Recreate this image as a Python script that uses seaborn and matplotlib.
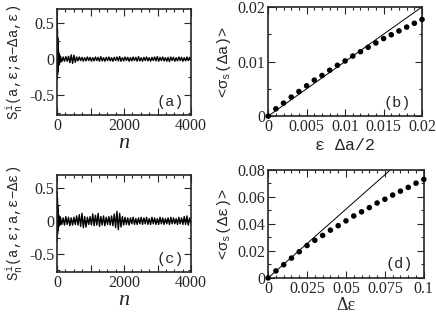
import numpy as np
import pandas as pd
import matplotlib.pyplot as plt
import seaborn as sns
from matplotlib.ticker import MultipleLocator, FuncFormatter

sns.set_style("ticks")
plt.rcParams['font.family'] = ['Liberation Serif', 'DejaVu Serif']
plt.rcParams['mathtext.fontset'] = 'custom'
plt.rcParams['mathtext.tt'] = 'Liberation Mono'
plt.rcParams['mathtext.rm'] = 'Liberation Mono'
plt.rcParams['mathtext.it'] = 'Liberation Mono'

early_n_a = [0, 3, 6, 9, 12, 15, 18, 22, 26, 30, 35, 40, 46, 52, 60, 68, 76, 85, 95]
early_a = [0.0, 0.58, -0.27, 0.42, -0.22, 0.30, -0.18, 0.22, -0.14, 0.16, -0.11,
           0.12, -0.09, 0.08, -0.07, 0.06, -0.05, 0.04, -0.04]
late_a = [
    0.04, -0.035, 0.03, -0.03, 0.035, -0.03, 0.04, -0.05, 0.06, -0.06, 0.055, -0.045,
    0.03, -0.025, 0.03, -0.02, 0.025, -0.03, 0.02, -0.025, 0.03, -0.02, 0.025, -0.03,
    0.02, -0.025, 0.03, -0.02, 0.025, -0.03, 0.035, -0.025, 0.02, -0.03, 0.025, -0.02,
    0.03, -0.025, 0.02, -0.03, 0.025, -0.02, 0.03, -0.025, 0.035, -0.03, 0.02, -0.025,
    0.03, -0.02, 0.025, -0.03, 0.02, -0.025, 0.03, -0.02, 0.025, -0.03, 0.035, -0.025,
    0.02, -0.03, 0.025, -0.02, 0.03, -0.025, 0.02, -0.03, 0.025, -0.02, 0.03, -0.025,
    0.035, -0.03, 0.025, -0.02, 0.03, -0.025, 0.02, -0.03, 0.025, -0.035, 0.03, -0.02,
    0.025, -0.03, 0.02, -0.025, 0.03, -0.02, 0.025, -0.03, 0.02, -0.025, 0.03, -0.02,
    0.025, -0.02]

# ---- panel (c): S_n^i(a,eps;a,eps-deps)
early_n_c = early_n_a
early_c = [0.0, 0.45, -0.30, 0.35, -0.20, 0.25, -0.15, 0.18, -0.12, 0.14, -0.10,
           0.10, -0.08, 0.08, -0.07, 0.07, -0.06, 0.06, -0.05]
late_c = [
    0.06, -0.05, 0.05, -0.06, 0.07, -0.05, 0.06, -0.07, 0.05, -0.06, 0.06, -0.05,
    0.08, -0.06, 0.10, -0.08, 0.12, -0.10, 0.07, -0.09, 0.06, -0.05, 0.07, -0.06,
    0.11, -0.07, 0.09, -0.06, 0.12, -0.08, 0.07, -0.06, 0.08, -0.07, 0.06, -0.05,
    0.07, -0.06, 0.08, -0.07, 0.11, -0.10, 0.15, -0.13, 0.12, -0.09, 0.07, -0.06,
    0.06, -0.05, 0.05, -0.06, 0.05, -0.04, 0.06, -0.05, 0.04, -0.05, 0.05, -0.04,
    0.06, -0.05, 0.05, -0.04, 0.06, -0.05, 0.04, -0.05, 0.06, -0.04, 0.05, -0.05,
    0.04, -0.05, 0.06, -0.04, 0.05, -0.05, 0.04, -0.04, 0.05, -0.05, 0.06, -0.04,
    0.05, -0.04, 0.04, -0.05, 0.06, -0.04, 0.05, -0.05, 0.07, -0.05, 0.08, -0.06,
    0.05, -0.04]

# ---- panel (b): <sigma_s(da)> vs eps*da/2
b_x = [0.0, 0.001, 0.002, 0.003, 0.004, 0.005, 0.006, 0.007, 0.008, 0.009, 0.010,
       0.011, 0.012, 0.013, 0.014, 0.015, 0.016, 0.017, 0.018, 0.019, 0.020]
b_y = [0.0, 0.00134, 0.00238, 0.00348, 0.0045, 0.00555, 0.00659, 0.00744, 0.0084,
       0.0093, 0.0101, 0.0110, 0.0118, 0.0126, 0.0134, 0.0142, 0.0149, 0.0156,
       0.0163, 0.0170, 0.0177]
b_line_x = [0.0, 0.02]
b_line_y = [0.0, 0.02]

# ---- panel (d): <sigma_s(deps)> vs deps
d_x = [0.0, 0.005, 0.010, 0.015, 0.020, 0.025, 0.030, 0.035, 0.040, 0.045, 0.050,
       0.055, 0.060, 0.065, 0.070, 0.075, 0.080, 0.085, 0.090, 0.095, 0.100]
d_y = [0.0, 0.0052, 0.0098, 0.0147, 0.0194, 0.0240, 0.0279, 0.0315, 0.0354, 0.0387,
       0.0423, 0.0459, 0.0490, 0.0521, 0.0555, 0.0583, 0.0614, 0.0643, 0.0671,
       0.0702, 0.0730]
d_line_x = [0.0, 0.0785]
d_line_y = [0.0, 0.08]


def series(early_n, early_v, late_v):
    n = list(early_n) + list(np.linspace(100, 4000, len(late_v)))
    return pd.DataFrame({'n': n, 's': list(early_v) + list(late_v)})


def style_axis(ax):
    for sp in ax.spines.values():
        sp.set_linewidth(1.2)
        sp.set_visible(True)
    ax.tick_params(which='both', direction='in', top=True, right=True,
                   labelsize=11.5, width=0.8, pad=2)
    ax.tick_params(which='major', length=5)
    ax.tick_params(which='minor', length=2.5)


fig = plt.figure(figsize=(4.36, 3.13), dpi=100)
ax_a = fig.add_axes([0.131, 0.633, 0.307, 0.338])
ax_b = fig.add_axes([0.615, 0.629, 0.353, 0.349])
ax_c = fig.add_axes([0.131, 0.13, 0.307, 0.310])
ax_d = fig.add_axes([0.615, 0.112, 0.357, 0.345])

mono = ['Liberation Mono', 'DejaVu Sans Mono']

for ax, df, lab, ylab in [
        (ax_a, series(early_n_a, early_a, late_a), '(a)',
         r'$S_{n}^{i}$(a,ε;a−Δa,ε)'),
        (ax_c, series(early_n_c, early_c, late_c), '(c)',
         r'$S_{n}^{i}$(a,ε;a,ε−Δε)')]:
    sns.lineplot(data=df, x='n', y='s', ax=ax, color='black', lw=1.0,
                 sort=False, estimator=None)
    ax.set_xlim(0, 4000)
    ax.set_ylim(-0.78, 0.7)
    ax.xaxis.set_major_locator(MultipleLocator(1000))
    ax.xaxis.set_minor_locator(MultipleLocator(250))
    ax.xaxis.set_major_formatter(FuncFormatter(
        lambda v, p: f'{int(v)}' if int(v) % 2000 == 0 else ''))
    ax.yaxis.set_major_locator(MultipleLocator(0.5))
    ax.yaxis.set_minor_locator(MultipleLocator(0.25))
    ax.yaxis.set_major_formatter(FuncFormatter(lambda v, p: f'{v:g}'))
    ax.set_xlabel('n', fontsize=16, style='italic', labelpad=0)
    ax.set_ylabel(ylab, fontsize=10, family=mono, labelpad=3)
    ax.text(0.95, 0.06, lab, transform=ax.transAxes, ha='right', va='bottom',
            fontsize=11, family=mono)
    style_axis(ax)

# panel (b)
sns.lineplot(x=b_line_x, y=b_line_y, ax=ax_b, color='black', lw=0.7)
sns.scatterplot(x=b_x, y=b_y, ax=ax_b, color='black', s=16, edgecolor='none',
                clip_on=False, zorder=3)
ax_b.set_xlim(0, 0.02)
ax_b.set_ylim(0, 0.02)
ax_b.xaxis.set_major_locator(MultipleLocator(0.005))
ax_b.xaxis.set_minor_locator(MultipleLocator(0.001))
ax_b.yaxis.set_major_locator(MultipleLocator(0.01))
ax_b.yaxis.set_minor_locator(MultipleLocator(0.005))
ax_b.xaxis.set_major_formatter(FuncFormatter(lambda v, p: f'{v:g}'))
ax_b.yaxis.set_major_formatter(FuncFormatter(lambda v, p: f'{v:g}'))
ax_b.set_xlabel('ε Δa/2', fontsize=12, family=mono, labelpad=2)
ax_b.set_ylabel(r'<σ$_{s}$(Δa)>', fontsize=11, family=mono, labelpad=3)
ax_b.text(0.93, 0.06, '(b)', transform=ax_b.transAxes, ha='right', va='bottom',
          fontsize=11, family=mono)
style_axis(ax_b)

# panel (d)
sns.lineplot(x=d_line_x, y=d_line_y, ax=ax_d, color='black', lw=0.7)
sns.scatterplot(x=d_x, y=d_y, ax=ax_d, color='black', s=16, edgecolor='none',
                clip_on=False, zorder=3)
ax_d.set_xlim(0, 0.1)
ax_d.set_ylim(0, 0.08)
ax_d.xaxis.set_major_locator(MultipleLocator(0.025))
ax_d.xaxis.set_minor_locator(MultipleLocator(0.005))
ax_d.yaxis.set_major_locator(MultipleLocator(0.02))
ax_d.yaxis.set_minor_locator(MultipleLocator(0.01))
ax_d.xaxis.set_major_formatter(FuncFormatter(lambda v, p: f'{v:g}'))
ax_d.yaxis.set_major_formatter(FuncFormatter(lambda v, p: f'{v:g}'))
ax_d.set_xlabel('Δε', fontsize=13, labelpad=0)
ax_d.set_ylabel(r'<σ$_{s}$(Δε)>', fontsize=11, family=mono, labelpad=3)
ax_d.text(0.93, 0.06, '(d)', transform=ax_d.transAxes, ha='right', va='bottom',
          fontsize=11, family=mono)
style_axis(ax_d)

fig.savefig('out.png', dpi=100)
